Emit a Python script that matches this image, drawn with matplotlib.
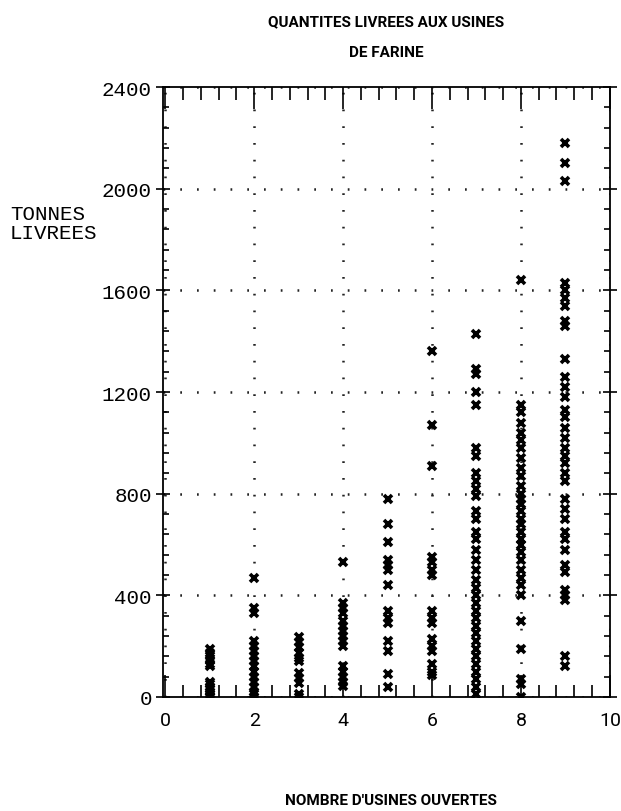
import numpy as np
import matplotlib.pyplot as plt
from matplotlib.ticker import MultipleLocator

# tonnes delivered per day, grouped by number of open plants
usines_1 = [190, 175, 160, 145, 130, 120, 60, 50, 40, 30, 20, 10, 5, 0]
usines_2 = [470, 350, 330, 220, 200, 180, 160, 140, 120, 100, 80, 60, 40, 20, 10, 0]
usines_3 = [235, 215, 195, 175, 155, 140, 95, 75, 55, 10, 0]
usines_4 = [530, 370, 350, 330, 300, 280, 260, 240, 220, 200, 120, 100, 80, 60, 45]
usines_5 = [780, 680, 610, 540, 520, 500, 440, 340, 310, 290, 220, 180, 90, 40]
usines_6 = [1360, 1070, 910, 550, 530, 500, 480, 340, 310, 290, 230, 200, 180,
            130, 100, 85]
usines_7 = [1430, 1290, 1270, 1200, 1150, 980, 950, 880, 850, 820, 790, 730, 700,
            650, 620, 580, 540, 500, 460, 430, 400, 370, 340, 310, 280, 250, 220,
            190, 160, 130, 100, 70, 40, 10]
usines_8 = [1640, 1150, 1120, 1080, 1040, 1010, 980, 940, 900, 870, 830, 800, 780,
            760, 730, 700, 680, 650, 620, 600, 570, 540, 500, 470, 440, 400, 300,
            190, 70, 50, 0]
usines_9 = [2180, 2100, 2030, 1630, 1600, 1570, 1540, 1480, 1460, 1330, 1260, 1220,
            1180, 1130, 1100, 1060, 1020, 980, 950, 920, 880, 850, 780, 740, 700,
            650, 620, 580, 520, 490, 420, 400, 380, 160, 120]

groupes = [usines_1, usines_2, usines_3, usines_4, usines_5,
           usines_6, usines_7, usines_8, usines_9]
nb_usines = [1, 2, 3, 4, 5, 6, 7, 8, 9]

titre_1 = "QUANTITES LIVREES AUX USINES"
titre_2 = "DE FARINE"
label_x = "NOMBRE D'USINES OUVERTES"
label_y = "TONNES\nLIVREES"

narrow = ['Roboto', 'DejaVu Sans']
mono = ['Liberation Mono', 'DejaVu Sans Mono']

fig = plt.figure(figsize=(6.21, 8.12), dpi=100)
ax = fig.add_axes([0.2625, 0.1404, 0.7195, 0.7512])

for n, vals in zip(nb_usines, groupes):
    ax.plot([n] * len(vals), vals, linestyle='none', marker='x', color='black',
            markersize=5.5, markeredgewidth=2.6)

ax.set_xlim(-0.05, 10.0)
ax.set_ylim(0, 2400)

ax.xaxis.set_major_locator(MultipleLocator(2))
ax.xaxis.set_minor_locator(MultipleLocator(0.4))
ax.yaxis.set_major_locator(MultipleLocator(400))
ax.yaxis.set_minor_locator(MultipleLocator(80))

ax.tick_params(axis='x', which='major', direction='in', length=16, width=1.2,
               top=True, bottom=True, pad=10)
ax.tick_params(axis='x', which='minor', direction='in', length=9, width=1.2,
               top=True, bottom=True)
ax.tick_params(axis='y', which='major', direction='inout', length=10, width=1.2,
               left=True, right=True, pad=3)
ax.tick_params(axis='y', which='minor', direction='in', length=4.5, width=1.2,
               left=True, right=True)

for lab in ax.get_xticklabels():
    lab.set_family(narrow)
    lab.set_fontsize(14)
for lab in ax.get_yticklabels():
    lab.set_family(mono)
    lab.set_fontsize(15)

for s in ax.spines.values():
    s.set_linewidth(1.3)

ax.grid(True, which='major', color='#222222', linewidth=1.8,
        linestyle=(0, (0.7, 6.0)))

fig.text(0.6224, 0.973, titre_1, ha='center', va='center', family=narrow,
         fontsize=11, fontweight='bold', fontstretch='condensed')
fig.text(0.6224, 0.935, titre_2, ha='center', va='center', family=narrow,
         fontsize=11, fontweight='bold', fontstretch='condensed')
fig.text(0.63, 0.005, label_x, ha='center', va='bottom', family=narrow,
         fontsize=11, fontweight='bold')
fig.text(0.016, 0.724, label_y, ha='left', va='center', family=mono,
         fontsize=15, linespacing=1.05)

fig.savefig('out.png', dpi=100)
